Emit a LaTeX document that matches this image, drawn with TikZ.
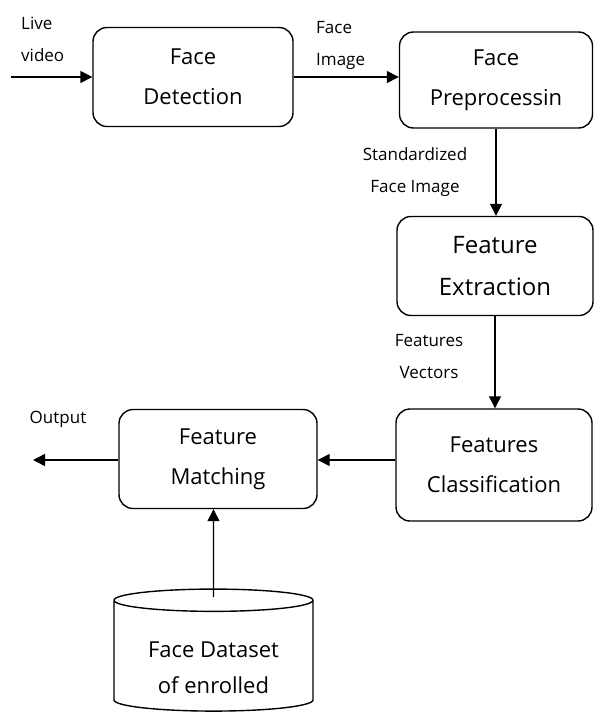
\documentclass[tikz,border=0pt]{standalone}
\usepackage{fontspec}
\setmainfont{Open Sans}
\usepackage{tikz}
\usetikzlibrary{calc,arrows.meta,shapes.geometric}

\begin{document}
\begin{tikzpicture}[x=1pt,y=-1pt,
    stage/.style={draw, line width=1.4pt, rounded corners=14pt, align=center, inner sep=0pt,
        font=\fontsize{22}{40}\selectfont},
    lbl/.style={inner sep=0pt, font=\fontsize{17}{32}\selectfont},
    flow/.style={line width=1.4pt, -{Triangle[length=12pt,width=12pt]}}]
                \useasboundingbox (0,0) rectangle (594,717);

                \node[stage, minimum width=200pt, minimum height=99pt] (det) at (193,77) {Face\\Detection};
                \node[stage, minimum width=193pt, minimum height=96pt] (pre) at (496,80) {Face\\Preprocessin};
                \node[stage, minimum width=196pt, minimum height=99pt, font=\fontsize{24}{42}\selectfont] (ext) at (495,266) {Feature\\Extraction};
                \node[stage, minimum width=196pt, minimum height=112pt] (cls) at (494,465) {Features\\Classification};
                \node[stage, minimum width=198pt, minimum height=99pt] (mat) at (218,459) {Feature\\Matching};
                \node[draw, line width=1.4pt, cylinder, shape border rotate=90, aspect=0.17,
                    minimum width=199pt, minimum height=122pt, align=center, inner sep=0pt, text height=76pt,
                    font=\fontsize{22}{36}\selectfont] (db) at (213.5,656) {Face Dataset\\of enrolled};

                \coordinate (in) at (11,77);
                \coordinate (out) at (33,460);

                \node[lbl, anchor=west, align=left] (lblLive) at (21,39) {Live\\video};
                \node[lbl, anchor=west, align=left] (lblImage) at (316,45) {Face\\Image};
                \node[lbl, align=center] (lblStd) at (415,172) {Standardized\\Face Image};
                \node[lbl, align=center] (lblVec) at (429,357) {Features\\Vectors};
                \node[lbl] (lblOut) at (58,419) {Output};

                \draw[flow] (in) -- (det.west |- in);
                \draw[flow] (det.east) -- (det.east -| pre.west);
                \draw[flow] (pre.south) -- (pre.south |- ext.north);
                \draw[flow] (ext.south) -- (ext.south |- cls.north);
                \draw[flow] (cls.west |- out) -- (mat.east |- out);
                \draw[flow] (mat.west |- out) -- (out);
                \draw[flow] ($(db.before top)!0.5!(db.after top)$) ++(0,-3) -- (db.top |- mat.south);
            \end{tikzpicture}
\end{document}
